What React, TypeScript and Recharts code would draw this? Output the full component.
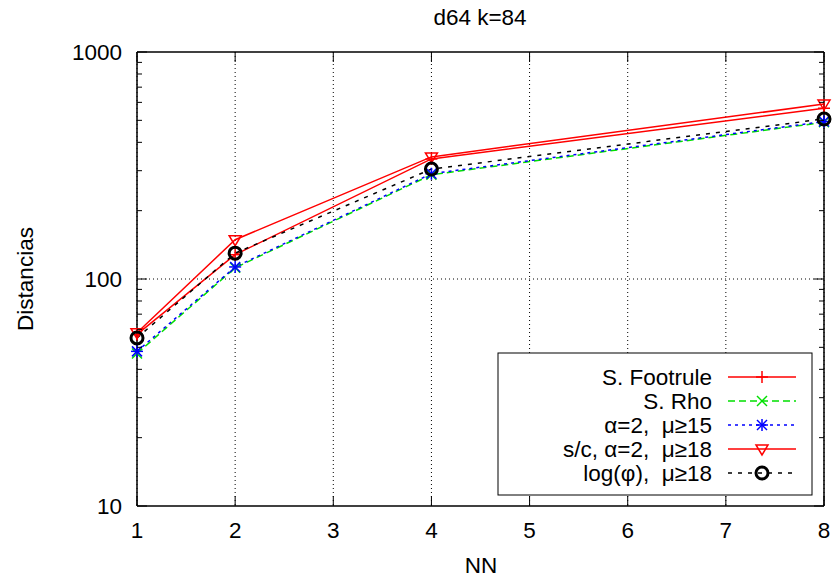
import { LineChart, Line, XAxis, YAxis, CartesianGrid, ReferenceLine } from "recharts";

// x positions (NN) and the five series
const nn = [1, 2, 4, 8];
const footrule = [57, 128, 338, 565];
const rho = [47, 112, 288, 490];
const alpha = [48, 113, 291, 494];
const sc = [58, 149, 345, 590];
const logPhi = [55, 130, 305, 507];

const xTicks = [1, 2, 3, 4, 5, 6, 7, 8];
const yMajor = [10, 100, 1000];
const yTicks = [10, 20, 30, 40, 50, 60, 70, 80, 90, 100, 200, 300, 400, 500, 600, 700, 800, 900, 1000];

const title = "d64 k=84";
const xLabel = "NN";
const yLabel = "Distancias";

const FONT = "'Liberation Sans', Arial, Helvetica, sans-serif";
const FS = 22.5;

type Kind = "plus" | "cross" | "star" | "tri" | "circle";

const series: { key: string; name: string; color: string; dash?: string; kind: Kind }[] = [
  { key: "footrule", name: "S. Footrule", color: "#ff0000", kind: "plus" },
  { key: "rho", name: "S. Rho", color: "#00e000", dash: "7 4", kind: "cross" },
  { key: "alpha", name: "α=2,  μ≥15", color: "#0000ff", dash: "3 4", kind: "star" },
  { key: "sc", name: "s/c, α=2,  μ≥18", color: "#ff0000", kind: "tri" },
  { key: "logPhi", name: "log(φ),  μ≥18", color: "#000000", dash: "4 6", kind: "circle" },
];

const data = nn.map((x, i) => ({
  nn: x,
  footrule: footrule[i],
  rho: rho[i],
  alpha: alpha[i],
  sc: sc[i],
  logPhi: logPhi[i],
}));

function Marker({ kind, cx, cy, color }: { kind: Kind; cx: number; cy: number; color: string }) {
  const s = { stroke: color, strokeWidth: 1.5, fill: "none" };
  if (kind === "plus")
    return (
      <g {...s}>
        <line x1={cx - 6} x2={cx + 6} y1={cy} y2={cy} />
        <line x1={cx} x2={cx} y1={cy - 6} y2={cy + 6} />
      </g>
    );
  if (kind === "cross")
    return (
      <g {...s}>
        <line x1={cx - 5} x2={cx + 5} y1={cy - 5} y2={cy + 5} />
        <line x1={cx - 5} x2={cx + 5} y1={cy + 5} y2={cy - 5} />
      </g>
    );
  if (kind === "star")
    return (
      <g {...s}>
        <line x1={cx - 6} x2={cx + 6} y1={cy} y2={cy} />
        <line x1={cx} x2={cx} y1={cy - 6} y2={cy + 6} />
        <line x1={cx - 5} x2={cx + 5} y1={cy - 5} y2={cy + 5} />
        <line x1={cx - 5} x2={cx + 5} y1={cy + 5} y2={cy - 5} />
      </g>
    );
  if (kind === "tri")
    return <polygon {...s} points={`${cx - 6},${cy - 4} ${cx + 6},${cy - 4} ${cx},${cy + 6}`} />;
  return <circle cx={cx} cy={cy} r={6} stroke={color} strokeWidth={3} fill="none" />;
}

const dotFor = (kind: Kind, color: string) => (p: any) =>
  <Marker key={p.index} kind={kind} cx={p.cx} cy={p.cy} color={color} />;

const txt = { fontFamily: FONT, fontSize: FS, fill: "#000" };

function LeftTick(p: any) {
  const major = yMajor.includes(p.payload.value);
  return (
    <g>
      <line x1={p.x} x2={p.x + (major ? 10 : 5)} y1={p.y} y2={p.y} stroke="#000" />
      {major && (
        <text x={p.x - 15} y={p.y + 8} textAnchor="end" {...txt}>
          {p.payload.value}
        </text>
      )}
    </g>
  );
}

function RightTick(p: any) {
  const major = yMajor.includes(p.payload.value);
  return <line x1={p.x} x2={p.x - (major ? 10 : 5)} y1={p.y} y2={p.y} stroke="#000" />;
}

function BottomTick(p: any) {
  return (
    <g>
      <line x1={p.x} x2={p.x} y1={p.y} y2={p.y - 10} stroke="#000" />
      <text x={p.x} y={p.y + 32} textAnchor="middle" {...txt}>
        {p.payload.value}
      </text>
    </g>
  );
}

function TopTick(p: any) {
  return <line x1={p.x} x2={p.x} y1={p.y} y2={p.y + 10} stroke="#000" />;
}

export default function App() {
  const legendTop = 377;
  return (
    <div style={{ position: "absolute", left: 0, top: 0, width: 835, height: 582, background: "#fff" }}>
      <LineChart width={835} height={582} data={data} margin={{ top: 0, right: 0, bottom: 0, left: 0 }}>
        <CartesianGrid horizontal={false} stroke="#000" strokeDasharray="1 3" />
        <ReferenceLine y={100} stroke="#000" strokeDasharray="1 3" />
        <XAxis
          dataKey="nn"
          type="number"
          domain={[1, 8]}
          ticks={xTicks}
          height={76}
          tickSize={0}
          tickMargin={0}
          axisLine={{ stroke: "#000", strokeWidth: 1.5 }}
          tickLine={false}
          tick={<BottomTick />}
          interval={0}
        />
        <XAxis
          xAxisId="top"
          orientation="top"
          dataKey="nn"
          type="number"
          domain={[1, 8]}
          ticks={xTicks}
          height={52}
          tickSize={0}
          tickMargin={0}
          axisLine={{ stroke: "#000", strokeWidth: 1.5 }}
          tickLine={false}
          tick={<TopTick />}
          interval={0}
        />
        <YAxis
          scale="log"
          type="number"
          domain={[10, 1000]}
          ticks={yTicks}
          allowDataOverflow
          width={137}
          tickSize={0}
          tickMargin={0}
          axisLine={{ stroke: "#000", strokeWidth: 1.5 }}
          tickLine={false}
          tick={<LeftTick />}
          interval={0}
        />
        <YAxis
          yAxisId="right"
          orientation="right"
          scale="log"
          type="number"
          domain={[10, 1000]}
          ticks={yTicks}
          allowDataOverflow
          width={11}
          tickSize={0}
          tickMargin={0}
          axisLine={{ stroke: "#000", strokeWidth: 1.5 }}
          tickLine={false}
          tick={<RightTick />}
          interval={0}
        />
        {series.map((s) => (
          <Line
            key={s.key}
            dataKey={s.key}
            type="linear"
            stroke={s.color}
            strokeWidth={1.5}
            strokeDasharray={s.dash}
            dot={dotFor(s.kind, s.color)}
            activeDot={false}
            isAnimationActive={false}
          />
        ))}
      </LineChart>
      <svg
        width={835}
        height={582}
        style={{ position: "absolute", left: 0, top: 0, pointerEvents: "none" }}
      >
        <text x={480} y={25} textAnchor="middle" {...txt}>
          {title}
        </text>
        <text x={481} y={573} textAnchor="middle" {...txt}>
          {xLabel}
        </text>
        <text x={33} y={279} textAnchor="middle" transform="rotate(-90 33 279)" {...txt}>
          {yLabel}
        </text>
        <rect x={498} y={353} width={314} height={142} fill="#fff" stroke="#000" strokeWidth={1} />
        {series.map((s, i) => {
          const y = legendTop + i * 24;
          return (
            <g key={s.key}>
              <text x={712} y={y + 8} textAnchor="end" style={{ whiteSpace: "pre" }} {...txt}>
                {s.name}
              </text>
              <line x1={728} x2={796} y1={y} y2={y} stroke={s.color} strokeWidth={1.5} strokeDasharray={s.dash} />
              <Marker kind={s.kind} cx={762} cy={y} color={s.color} />
            </g>
          );
        })}
      </svg>
    </div>
  );
}
